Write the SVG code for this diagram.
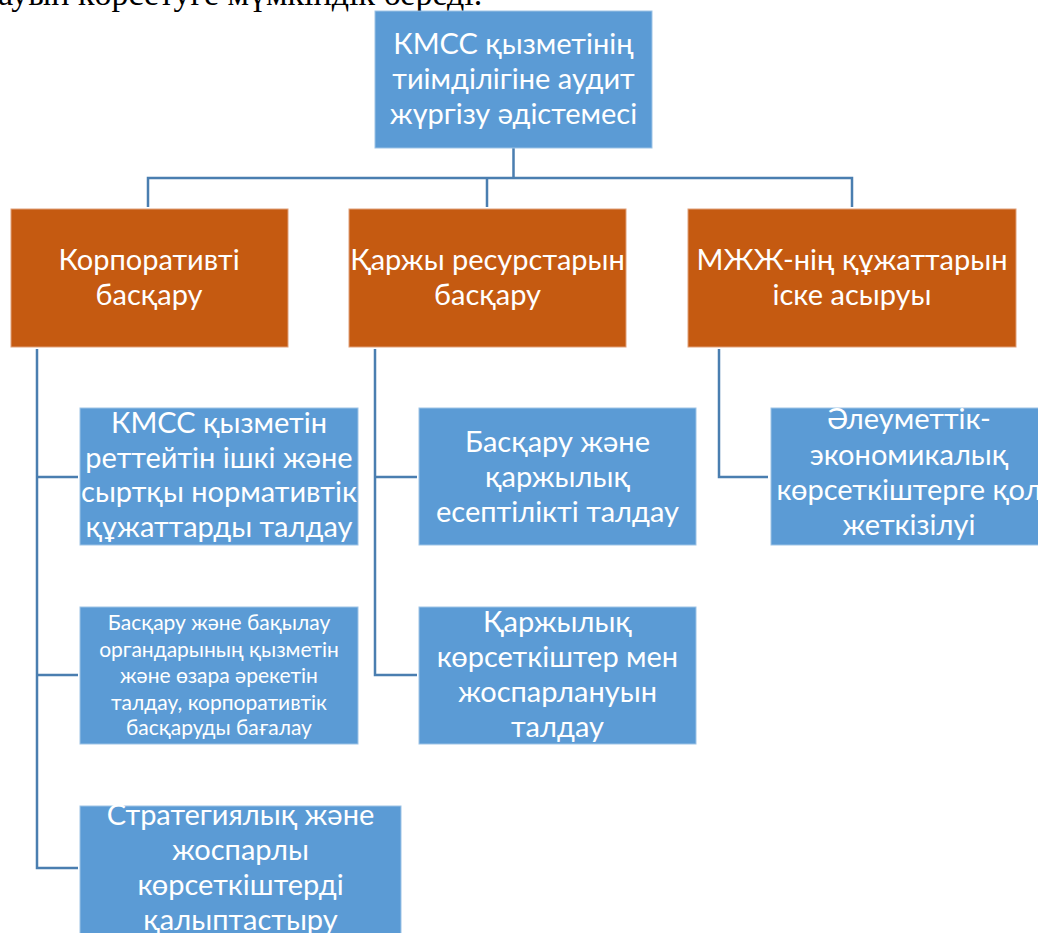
<svg xmlns="http://www.w3.org/2000/svg" width="1038" height="933" viewBox="0 0 1038 933">
<style>
.blue{fill:#5B9BD5;stroke:#9DC3E6;stroke-width:1}
.orange{fill:#C55A11;stroke:#E0A07A;stroke-width:1}
.t{font-family:Lato,"Open Sans","DejaVu Sans",sans-serif;fill:#ffffff;text-anchor:middle;font-size:29px}
.s{font-size:21px}
.c{fill:none;stroke:#4A7EB0;stroke-width:2.5}
.top{font-family:"Liberation Serif",serif;font-size:34px;fill:#000}
</style>
<rect width="1038" height="933" fill="#ffffff"/>
<text class="top" x="-2" y="5">ауын көрсетуге мүмкіндік береді.</text>
<g id="connectors">
<path class="c" d="M513.5 148 V178 M148 207 V178 H852 V207 M487 178 V207"/>
<path class="c" d="M37 349 V868 H78 M37 477 H78 M37 675 H78"/>
<path class="c" d="M375 349 V675 H417 M375 477 H417"/>
<path class="c" d="M719 349 V477 H768"/>
</g>
<g id="root">
<rect class="blue" x="375" y="11" width="277" height="137"/>
<text class="t" x="513.5" y="54">КМСС қызметінің</text>
<text class="t" x="513.5" y="89">тиімділігіне аудит</text>
<text class="t" x="513.5" y="124">жүргізу әдістемесі</text>
</g>
<g id="n1">
<rect class="orange" x="11" y="209" width="277" height="138"/>
<text class="t" x="149" y="270">Корпоративті</text>
<text class="t" x="149" y="305">басқару</text>
</g>
<g id="n2">
<rect class="orange" x="349" y="209" width="277" height="138"/>
<text class="t" x="487.5" y="270">Қаржы ресурстарын</text>
<text class="t" x="487.5" y="305">басқару</text>
</g>
<g id="n3">
<rect class="orange" x="688" y="209" width="328" height="138"/>
<text class="t" x="852" y="270">МЖЖ-нің құжаттарын</text>
<text class="t" x="852" y="305">іске асыруы</text>
</g>
<g id="n1a">
<rect class="blue" x="80" y="408" width="278" height="137"/>
<text class="t" x="219" y="433">КМСС қызметін</text>
<text class="t" x="219" y="467.5">реттейтін ішкі және</text>
<text class="t" x="219" y="502">сыртқы нормативтік</text>
<text class="t" x="219" y="536.5">құжаттарды талдау</text>
</g>
<g id="n1b">
<rect class="blue" x="80" y="607" width="278" height="137"/>
<text class="t s" x="219" y="630">Басқару және бақылау</text>
<text class="t s" x="219" y="656.5">органдарының қызметін</text>
<text class="t s" x="219" y="683">және өзара әрекетін</text>
<text class="t s" x="219" y="709.5">талдау, корпоративтік</text>
<text class="t s" x="219" y="735">басқаруды бағалау</text>
</g>
<g id="n1c">
<rect class="blue" x="80" y="806" width="321" height="140"/>
<text class="t" x="240.5" y="825">Стратегиялық және</text>
<text class="t" x="240.5" y="860">жоспарлы</text>
<text class="t" x="240.5" y="895">көрсеткіштерді</text>
<text class="t" x="240.5" y="930">қалыптастыру</text>
</g>
<g id="n2a">
<rect class="blue" x="419" y="408" width="277" height="137"/>
<text class="t" x="557.5" y="452">Басқару және</text>
<text class="t" x="557.5" y="487">қаржылық</text>
<text class="t" x="557.5" y="522">есептілікті талдау</text>
</g>
<g id="n2b">
<rect class="blue" x="419" y="607" width="277" height="137"/>
<text class="t" x="557.5" y="632">Қаржылық</text>
<text class="t" x="557.5" y="667">көрсеткіштер мен</text>
<text class="t" x="557.5" y="702">жоспарлануын</text>
<text class="t" x="557.5" y="737">талдау</text>
</g>
<g id="n3a">
<rect class="blue" x="771" y="408" width="277" height="137"/>
<text class="t" x="909" y="429">Әлеуметтік-</text>
<text class="t" x="909" y="465">экономикалық</text>
<text class="t" x="909" y="500">көрсеткіштерге қол</text>
<text class="t" x="909" y="535">жеткізілуі</text>
</g>
</svg>
